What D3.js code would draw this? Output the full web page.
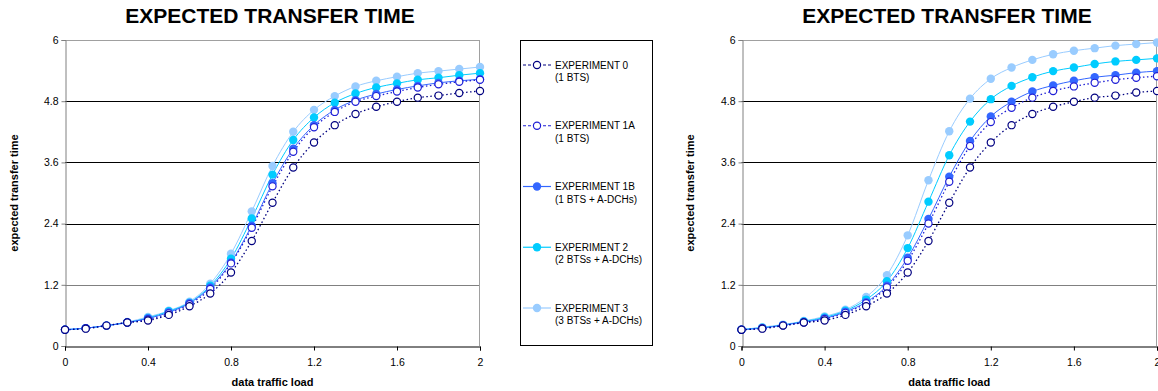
<!DOCTYPE html>
<html><head><meta charset="utf-8">
<script src="https://cdn.jsdelivr.net/npm/d3@7"></script>
<style>body{margin:0;background:#fff;}svg{display:block;font-family:Arial,"Liberation Sans",sans-serif;}</style>
</head><body>
<svg id="c" width="1158" height="391"></svg>
<script>
const loads = [0,0.1,0.2,0.3,0.4,0.5,0.6,0.7,0.8,0.9,1.0,1.1,1.2,1.3,1.4,1.5,1.6,1.7,1.8,1.9,2.0];
const xTicks = [0,0.4,0.8,1.2,1.6,2];
const yTicks = [0,1.2,2.4,3.6,4.8,6];
const seriesNames = ["EXPERIMENT 0","EXPERIMENT 1A","EXPERIMENT 1B","EXPERIMENT 2","EXPERIMENT 3"];
const seriesSub = ["(1 BTS)","(1 BTS)","(1 BTS + A-DCHs)","(2 BTSs + A-DCHs)","(3 BTSs + A-DCHs)"];
// Left chart
const leftExp0  = [0.32,0.34,0.40,0.46,0.50,0.61,0.78,1.03,1.44,2.06,2.81,3.50,3.99,4.33,4.55,4.69,4.79,4.87,4.91,4.96,5.00];
const leftExp1A = [0.32,0.35,0.40,0.46,0.52,0.64,0.82,1.12,1.62,2.32,3.13,3.81,4.29,4.59,4.79,4.90,4.99,5.07,5.13,5.18,5.22];
const leftExp1B = [0.32,0.35,0.40,0.46,0.54,0.66,0.84,1.15,1.64,2.36,3.19,3.87,4.33,4.63,4.82,4.94,5.03,5.10,5.16,5.20,5.23];
const leftExp2  = [0.32,0.35,0.40,0.46,0.55,0.68,0.85,1.18,1.71,2.50,3.36,4.04,4.48,4.77,4.95,5.07,5.15,5.22,5.26,5.31,5.35];
const leftExp3  = [0.32,0.35,0.40,0.47,0.57,0.69,0.87,1.22,1.81,2.64,3.53,4.20,4.63,4.90,5.09,5.20,5.28,5.35,5.39,5.43,5.47];
// Right chart
const rightExp0  = [0.32,0.34,0.40,0.46,0.50,0.61,0.78,1.03,1.44,2.06,2.81,3.50,3.99,4.33,4.55,4.69,4.79,4.87,4.91,4.97,5.00];
const rightExp1A = [0.32,0.35,0.40,0.46,0.53,0.65,0.84,1.15,1.67,2.40,3.22,3.92,4.39,4.67,4.87,5.00,5.09,5.16,5.22,5.26,5.29];
const rightExp1B = [0.32,0.35,0.41,0.47,0.54,0.67,0.86,1.18,1.73,2.49,3.32,4.02,4.50,4.79,4.99,5.11,5.20,5.27,5.31,5.36,5.39];
const rightExp2  = [0.32,0.36,0.41,0.48,0.56,0.69,0.91,1.27,1.92,2.83,3.74,4.40,4.84,5.10,5.27,5.39,5.46,5.53,5.58,5.61,5.64];
const rightExp3  = [0.32,0.37,0.42,0.49,0.58,0.71,0.96,1.39,2.17,3.25,4.21,4.85,5.24,5.46,5.61,5.72,5.79,5.84,5.89,5.92,5.95];

const styles = [
  {color:"#000080", dash:"1.5,2.5", open:true},
  {color:"#1f1fd6", dash:"1.5,2.5", open:true},
  {color:"#3366ff", dash:null, open:false},
  {color:"#00ccff", dash:null, open:false},
  {color:"#99ccff", dash:null, open:false}
];

const svg = d3.select("#c");

function drawChart(x0, x1, data, titleX, ylabX) {
  const g = svg.append("g");
  const x = d3.scaleLinear().domain([0,2]).range([x0,x1]);
  const y = d3.scaleLinear().domain([0,6]).range([346,40]);
  g.selectAll(".grid").data(yTicks.filter(t=>t>0 && t<6)).enter().append("line")
    .attr("x1",x(0)).attr("x2",x(2)).attr("y1",d=>Math.round(y(d))+0.5).attr("y2",d=>Math.round(y(d))+0.5)
    .attr("stroke",d=>d===1.2?"#808080":"#000").attr("stroke-width",1);
  g.append("line").attr("x1",x(0)).attr("x2",x(2)).attr("y1",Math.round(y(6))+0.5).attr("y2",Math.round(y(6))+0.5).attr("stroke","#a0a0a0");
  g.append("line").attr("x1",Math.round(x(2))-0.5).attr("x2",Math.round(x(2))-0.5).attr("y1",y(6)).attr("y2",y(0)).attr("stroke","#a0a0a0");
  const ya = g.append("g").attr("transform",`translate(${Math.round(x(0))+0.5},0)`)
    .call(d3.axisLeft(y).tickValues(yTicks).tickFormat(d3.format("")).tickSize(4).tickPadding(3));
  ya.select(".domain").attr("stroke","#808080");
  ya.selectAll(".tick line").attr("stroke","#808080");
  ya.selectAll("text").attr("font-size",10.5).attr("fill","#000").attr("font-family","Arial, Liberation Sans, sans-serif");
  const xa = g.append("g").attr("transform",`translate(0,${Math.round(y(0))+0.5})`)
    .call(d3.axisBottom(x).tickValues(xTicks).tickFormat(d3.format("")).tickSize(4).tickPadding(8));
  xa.select(".domain").attr("stroke","#000");
  xa.selectAll(".tick line").attr("stroke","#000");
  xa.selectAll("text").attr("font-size",10.5).attr("fill","#000").attr("font-family","Arial, Liberation Sans, sans-serif");
  const line = d3.line().x((d,i)=>x(loads[i])).y(d=>y(d)).curve(d3.curveMonotoneX);
  const order = [4,3,2,1,0];
  order.forEach(si=>{
    const st = styles[si];
    g.append("path").datum(data[si]).attr("d",line).attr("fill","none")
      .attr("stroke",st.color).attr("stroke-width",si>=2?1:1.3)
      .attr("stroke-dasharray",st.dash);
  });
  order.forEach(si=>{
    const st = styles[si];
    g.selectAll(null).data(data[si]).enter().append("circle")
      .attr("cx",(d,i)=>x(loads[i])).attr("cy",d=>y(d)).attr("r",st.open?3.6:4.2)
      .attr("fill",st.open?"#fff":st.color).attr("stroke",st.color).attr("stroke-width",st.open?1.2:0);
  });
  g.append("text").attr("x",titleX).attr("y",23).attr("text-anchor","middle")
    .attr("font-size",21).attr("font-weight","bold").text("EXPECTED TRANSFER TIME");
  g.append("text").attr("transform",`translate(${ylabX},193) rotate(-90)`).attr("text-anchor","middle")
    .attr("font-size",11).attr("font-weight","bold").text("expected transfer time");
  g.append("text").attr("x",x(1)).attr("y",386).attr("text-anchor","middle")
    .attr("font-size",11).attr("font-weight","bold").text("data traffic load");
  return g;
}

drawChart(65, 480, [leftExp0,leftExp1A,leftExp1B,leftExp2,leftExp3], 270, 18);
drawChart(741.5, 1157, [rightExp0,rightExp1A,rightExp1B,rightExp2,rightExp3], 947, 694);

const lg = svg.append("g");
lg.append("rect").attr("x",520.5).attr("y",40.5).attr("width",132).attr("height",305).attr("fill","#fff").attr("stroke","#000");
const ly = d3.scaleLinear().domain([0,4]).range([65,308]);
seriesNames.forEach((n,i)=>{
  const st = styles[i];
  const yy = ly(i);
  lg.append("line").attr("x1",523).attr("x2",551).attr("y1",yy).attr("y2",yy)
    .attr("stroke",st.color).attr("stroke-width",1.2).attr("stroke-dasharray",st.open?"3,2":null);
  lg.append("circle").attr("cx",537).attr("cy",yy).attr("r",st.open?3.6:4.2)
    .attr("fill",st.open?"#fff":st.color).attr("stroke",st.color).attr("stroke-width",st.open?1.2:0);
  lg.append("text").attr("x",555).attr("y",yy+3.5).attr("font-size",10).text(n);
  lg.append("text").attr("x",555).attr("y",yy+16).attr("font-size",10).text(seriesSub[i]);
});
</script>
</body></html>
